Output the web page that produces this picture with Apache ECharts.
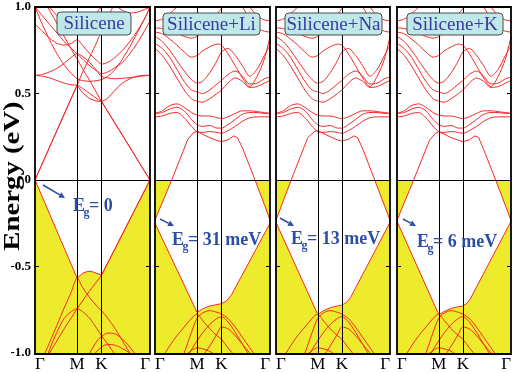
<!DOCTYPE html>
<html>
<head>
<meta charset="utf-8">
<script src="https://cdn.jsdelivr.net/npm/echarts@6/dist/echarts.min.js"></script>
<style>
  html, body { margin: 0; padding: 0; background: #fff; }
  #chart { width: 517px; height: 373px; }
</style>
</head>
<body>
<div id="chart"></div>
<script>
// k path Γ-M-K-Γ (relative lengths), energies in eV
const kTicks = [0, 0.577, 0.911, 1.577];
const kLabels = ['Γ', 'M', 'K', 'Γ'];
const panelNames = ['Silicene', 'Silicene+Li', 'Silicene+Na', 'Silicene+K'];
const gapTexts = ['= 0', '= 31 meV', '= 13 meV', '= 6 meV'];

const kGrid = [0, 0.1, 0.2, 0.3, 0.4, 0.5, 0.577, 0.65, 0.75, 0.85, 0.911, 1.0, 1.1, 1.2, 1.3, 1.4, 1.5, 1.577];

// pristine silicene: cone envelopes as [k, E]
const p1VB = [[0, 0], [0.577, -0.567], [0.65, -0.54], [0.7, -0.531], [0.75, -0.528], [0.8, -0.532], [0.85, -0.54], [0.911, -0.55], [1.577, 0]];
const p1CB = [[0, 0], [0.577, 0.548], [0.65, 0.505], [0.75, 0.47], [0.85, 0.455], [0.911, 0.455], [1.577, 0]];
// pristine silicene: other bands on kGrid
const p1C2 = [0, 0.095, 0.19, 0.285, 0.38, 0.475, 0.548, 0.62, 0.71, 0.80, 0.86, 0.94, 1.03, 1.12, 1.2, 1.3, 1.4, 1.5];
const p1C3 = [1.12, 1.05, 0.98, 0.905, 0.83, 0.755, 0.70, 0.645, 0.575, 0.50, 0.455, 0.394, 0.326, 0.258, 0.19, 0.12, 0.052, 0];
const p1C4 = [0.605, 0.60, 0.59, 0.575, 0.56, 0.55, 0.548, 0.53, 0.50, 0.47, 0.455, 0.475, 0.52, 0.56, 0.585, 0.60, 0.605, 0.605];
const p1C5 = [0.605, 0.61, 0.625, 0.645, 0.675, 0.71, 0.73, 0.715, 0.68, 0.63, 0.60, 0.59, 0.585, 0.588, 0.592, 0.597, 0.602, 0.605];
const p1C6 = [1.0, 0.95, 0.90, 0.85, 0.80, 0.76, 0.73, 0.70, 0.66, 0.63, 0.615, 0.625, 0.65, 0.68, 0.73, 0.79, 0.86, 0.92];
const p1C7 = [1.0, 0.90, 0.81, 0.73, 0.665, 0.615, 0.585, 0.575, 0.57, 0.575, 0.58, 0.60, 0.64, 0.70, 0.77, 0.85, 0.93, 1.0];
const p1C8 = [0.90, 0.86, 0.82, 0.79, 0.78, 0.79, 0.81, 0.78, 0.73, 0.69, 0.67, 0.68, 0.71, 0.75, 0.80, 0.86, 0.93, 1.0];
const p1C9 = [1.1, 1.05, 1.0, 0.95, 0.91, 0.875, 0.86, 0.875, 0.92, 0.97, 1.0, 1.03, 1.01, 0.98, 0.965, 0.97, 0.985, 1.0];
const p1V2 = [-1.2, -1.04, -0.94, -0.84, -0.74, -0.645, -0.567, -0.62, -0.68, -0.73, -0.755, -0.80, -0.86, -0.93, -1.0, -1.07, -1.13, -1.18];
const p1V3 = [-1.25, -1.1, -0.98, -0.88, -0.80, -0.76, -0.745, -0.76, -0.80, -0.86, -0.90, -0.95, -1.01, -1.07, -1.12, -1.16, -1.2, -1.22];
const p1V4 = [-1.15, -1.08, -1.0, -0.93, -0.86, -0.795, -0.745, -0.70, -0.64, -0.585, -0.55, -0.477, -0.395, -0.312, -0.23, -0.147, -0.064, 0];
const p1V5 = [-1.3, -1.3, -1.3, -1.3, -1.25, -1.18, -1.12, -1.07, -1.0, -0.93, -0.905, -0.885, -0.89, -0.92, -0.965, -1.02, -1.08, -1.12];
const p1V6 = [-1.3, -1.3, -1.3, -1.3, -1.25, -1.15, -1.1, -1.06, -1.03, -0.99, -0.965, -0.95, -0.955, -0.975, -1.0, -1.04, -1.08, -1.1];

// alkali-doped: cone bands per panel, [k, E]
const liCB = [[0, -0.23], [0.229, 0], [0.45, 0.235], [0.53, 0.275], [0.577, 0.28], [0.65, 0.265], [0.75, 0.245], [0.85, 0.228], [0.911, 0.222], [1.0, 0.232], [1.08, 0.255], [1.13, 0.245], [1.2, 0.185], [1.372, 0], [1.577, -0.23]];
const liVB = [[0, -0.25], [0.577, -0.765], [0.65, -0.745], [0.75, -0.728], [0.85, -0.72], [0.911, -0.715], [0.98, -0.70], [1.05, -0.663], [1.577, -0.25]];
const naCB = [[0, -0.232], [0.21, 0], [0.44, 0.245], [0.53, 0.28], [0.577, 0.285], [0.65, 0.27], [0.75, 0.25], [0.85, 0.232], [0.911, 0.225], [1.0, 0.235], [1.08, 0.255], [1.13, 0.245], [1.2, 0.18], [1.365, 0], [1.577, -0.232]];
const naVB = [[0, -0.245], [0.578, -0.778], [0.65, -0.757], [0.75, -0.738], [0.85, -0.728], [0.916, -0.722], [0.97, -0.71], [1.03, -0.68], [1.577, -0.245]];
const kCB = [[0, -0.233], [0.23, 0], [0.45, 0.23], [0.53, 0.27], [0.577, 0.278], [0.65, 0.265], [0.75, 0.245], [0.85, 0.23], [0.911, 0.222], [1.0, 0.232], [1.08, 0.255], [1.13, 0.245], [1.2, 0.175], [1.365, 0], [1.577, -0.233]];
const kVB = [[0, -0.239], [0.578, -0.778], [0.65, -0.76], [0.75, -0.742], [0.85, -0.732], [0.911, -0.728], [0.96, -0.715], [1.01, -0.69], [1.577, -0.239]];

// alkali-doped: other bands on kGrid (same look in all three panels)
const akA0 = [0.385, 0.40, 0.43, 0.44, 0.42, 0.39, 0.375, 0.37, 0.37, 0.36, 0.355, 0.365, 0.385, 0.40, 0.40, 0.395, 0.39, 0.385];
const akA1 = [0.385, 0.39, 0.41, 0.42, 0.40, 0.35, 0.32, 0.31, 0.315, 0.30, 0.30, 0.32, 0.35, 0.38, 0.39, 0.39, 0.385, 0.385];
const akA2 = [0.365, 0.37, 0.385, 0.39, 0.36, 0.31, 0.28, 0.275, 0.28, 0.275, 0.27, 0.285, 0.31, 0.34, 0.36, 0.365, 0.365, 0.365];
const akW1 = [0.76, 0.72, 0.66, 0.59, 0.52, 0.47, 0.455, 0.45, 0.47, 0.50, 0.52, 0.56, 0.59, 0.57, 0.535, 0.54, 0.56, 0.575];
const akW2 = [0.79, 0.76, 0.71, 0.64, 0.57, 0.52, 0.51, 0.50, 0.52, 0.555, 0.575, 0.61, 0.63, 0.60, 0.555, 0.56, 0.585, 0.595];
const akW3 = [0.83, 0.80, 0.75, 0.69, 0.63, 0.58, 0.56, 0.57, 0.62, 0.69, 0.74, 0.76, 0.72, 0.66, 0.60, 0.64, 0.72, 0.78];
const akW4 = [0.855, 0.845, 0.815, 0.78, 0.74, 0.71, 0.72, 0.745, 0.77, 0.785, 0.78, 0.73, 0.66, 0.59, 0.54, 0.60, 0.70, 0.83];
const akW5 = [0.88, 0.875, 0.865, 0.85, 0.83, 0.82, 0.83, 0.86, 0.91, 0.96, 0.99, 1.03, 1.05, 1.0, 0.93, 0.88, 0.86, 0.855];
const akW6 = [0.92, 0.93, 0.96, 1.0, 1.04, 1.06, 1.06, 1.05, 1.04, 1.03, 1.02, 1.05, 1.08, 1.06, 1.0, 0.95, 0.925, 0.92];
const akTop = [0.997, 0.997, 0.997, 0.997, 0.997, 0.997, 0.997, 0.997, 0.997, 0.997, 0.997, 0.997, 0.997, 0.997, 0.997, 0.997, 0.997, 0.997];
const akV2 = [-1.4, -1.3, -1.2, -1.1, -1.0, -0.88, -0.80, -0.77, -0.755, -0.765, -0.775, -0.80, -0.85, -0.91, -0.97, -1.03, -1.1, -1.15];
const akL1 = [-1.15, -1.03, -0.96, -0.90, -0.85, -0.80, -0.775, -0.81, -0.86, -0.90, -0.92, -0.97, -1.02, -1.08, -1.1, -1.1, -1.1, -1.1];
const akL2 = [-1.3, -1.25, -1.2, -1.12, -1.06, -0.98, -0.93, -0.885, -0.835, -0.80, -0.79, -0.82, -0.88, -0.95, -1.02, -1.1, -1.15, -1.2];
const akL3 = [-1.3, -1.3, -1.25, -1.2, -1.15, -1.1, -1.06, -1.02, -0.96, -0.89, -0.85, -0.86, -0.9, -0.95, -1.0, -1.05, -1.1, -1.15];
const akL4 = [-1.2, -1.15, -1.1, -1.06, -1.02, -0.985, -0.97, -0.975, -0.99, -1.02, -1.04, -1.08, -1.1, -1.1, -1.1, -1.1, -1.1, -1.1];

const RED = '#f42a2a';
const YEL = '#eeea2c';
const BLUE = '#2c4ea4';
const SERIF = '"Liberation Serif", "Times New Roman", serif';

const panelLeft = [35, 155, 276, 397];
const panelWidth = [115, 115, 114, 114];
const panelTop = 7;
const panelHeight = 347;

const onGrid = arr => kGrid.map((k, i) => [k, arr[i]]);

const series = [];
function band(p, data, smooth, extra) {
  series.push(Object.assign({
    type: 'line', xAxisIndex: p, yAxisIndex: p * 2, data: data,
    symbol: 'none', smooth: smooth, silent: true, z: 3,
    lineStyle: { color: RED, width: 1 }
  }, extra || {}));
}
function fill(p, data, color, z) {
  series.push({
    type: 'line', xAxisIndex: p, yAxisIndex: p * 2, data: data,
    symbol: 'none', silent: true, z: z,
    lineStyle: { width: 0 },
    areaStyle: { color: color, opacity: 1, origin: 'start' }
  });
}

// panel 1
band(0, p1VB, false, { z: 2, areaStyle: { color: YEL, opacity: 1, origin: 'start' } });
band(0, p1CB, false);
[p1C2, p1C3, p1C4, p1C5, p1C6, p1C7, p1C8, p1C9, p1V2, p1V3, p1V4, p1V5, p1V6]
  .forEach(b => band(0, onGrid(b), 0.3));

// panels 2-4
const cones = [[liCB, liVB], [naCB, naVB], [kCB, kVB]];
cones.forEach(([cb, vb], i) => {
  const p = i + 1;
  fill(p, [[0, 0], [1.577, 0]], YEL, 1);
  fill(p, cb.map(([k, e]) => [k, Math.min(e, 0)]), '#ffffff', 1);
  band(p, vb, false, { z: 2, areaStyle: { color: YEL, opacity: 1, origin: 'start' } });
  band(p, cb, false);
  [akA0, akA1, akA2, akW1, akW2, akW3, akW4, akW5, akW6, akTop, akV2, akL1, akL2, akL3, akL4]
    .forEach(b => band(p, onGrid(b), 0.3));
});

// vertical M, K lines and Fermi level
for (let p = 0; p < 4; p++) {
  series.push({
    type: 'line', xAxisIndex: p, yAxisIndex: p * 2, data: [], z: 5, silent: true,
    markLine: {
      silent: true, symbol: ['none', 'none'], label: { show: false },
      lineStyle: { color: '#000', width: 1, type: 'solid' },
      data: [{ xAxis: kTicks[1] }, { xAxis: kTicks[2] }, { yAxis: 0 }]
    }
  });
}

const grids = [], xAxes = [], yAxes = [];
for (let p = 0; p < 4; p++) {
  grids.push({ left: panelLeft[p], top: panelTop, width: panelWidth[p], height: panelHeight });
  xAxes.push({
    type: 'value', gridIndex: p, min: 0, max: 1.577,
    axisLine: { show: false }, axisTick: { show: false }, splitLine: { show: false },
    axisLabel: {
      customValues: kTicks,
      formatter: v => kLabels[kTicks.indexOf(v)],
      alignMinLabel: 'left', alignMaxLabel: 'right',
      showMinLabel: true, showMaxLabel: true,
      margin: 3, color: '#000', fontFamily: SERIF, fontSize: 17
    }
  });
  ['left', 'right'].forEach(pos => {
    yAxes.push({
      type: 'value', gridIndex: p, min: -1, max: 1, interval: 0.5, position: pos, z: 10,
      axisLine: { show: false }, splitLine: { show: false },
      axisTick: { show: true, inside: true, length: 4, lineStyle: { color: '#000', width: 1 } },
      axisLabel: {
        show: p === 0 && pos === 'left', margin: 4, color: '#000',
        fontFamily: SERIF, fontWeight: 'bold', fontSize: 13,
        formatter: v => (v === 0 ? '0' : v.toFixed(1))
      }
    });
  });
}

// titles, gap notes, frames
const boxes = [[57, 12, 74, 23], [163, 13, 97, 22], [285, 13, 97, 22], [407, 13, 96, 22]];
const arrows = [[43, 185, 65, 198], [160, 219, 174, 226], [280, 218, 294, 226], [403, 219, 416, 226]];
const notePos = [[73, 206], [172, 240], [291, 239], [417, 242]];
const graphic = [];
for (let p = 0; p < 4; p++) {
  graphic.push({
    type: 'rect', z: 100, silent: true,
    shape: { x: panelLeft[p], y: panelTop, width: panelWidth[p], height: panelHeight },
    style: { fill: 'none', stroke: '#000', lineWidth: 1.8 }
  });
  const [bx, by, bw, bh] = boxes[p];
  graphic.push({
    type: 'rect', z: 101, shape: { x: bx, y: by, width: bw, height: bh, r: 4 },
    style: { fill: '#bfe8e9', stroke: '#4a4a4a', lineWidth: 1 }
  });
  graphic.push({
    type: 'text', z: 102, x: bx + bw / 2, y: by + bh / 2 + 1,
    style: { text: panelNames[p], fill: '#3a3aa2', font: '19px ' + SERIF, align: 'center', verticalAlign: 'middle' }
  });
  const [x1, y1, x2, y2] = arrows[p];
  const ang = Math.atan2(y2 - y1, x2 - x1);
  const hl = 6, hw = 3;
  const bxh = x2 - hl * Math.cos(ang), byh = y2 - hl * Math.sin(ang);
  graphic.push({
    type: 'line', z: 101, shape: { x1: x1, y1: y1, x2: bxh, y2: byh },
    style: { stroke: BLUE, lineWidth: 1.5 }
  });
  graphic.push({
    type: 'polygon', z: 101,
    shape: { points: [[x2, y2],
      [bxh + hw * Math.sin(ang), byh - hw * Math.cos(ang)],
      [bxh - hw * Math.sin(ang), byh + hw * Math.cos(ang)]] },
    style: { fill: BLUE }
  });
  const [nx, ny] = notePos[p];
  graphic.push({ type: 'text', z: 101, x: nx, y: ny,
    style: { text: 'E', fill: BLUE, font: 'bold 18px ' + SERIF, verticalAlign: 'middle' } });
  graphic.push({ type: 'text', z: 101, x: nx + 10.5, y: ny + 7,
    style: { text: 'g', fill: BLUE, font: 'bold 12px ' + SERIF, verticalAlign: 'middle' } });
  graphic.push({ type: 'text', z: 101, x: nx + 16, y: ny,
    style: { text: gapTexts[p], fill: BLUE, font: 'bold 18px ' + SERIF, verticalAlign: 'middle' } });
}
graphic.push({
  type: 'text', z: 101, x: 13, y: 176, rotation: Math.PI / 2, scaleX: 1.25,
  style: { text: 'Energy (eV)', fill: '#000', font: 'bold 23px ' + SERIF, align: 'center', verticalAlign: 'middle' }
});

const chart = echarts.init(document.getElementById('chart'));
chart.setOption({
  animation: false,
  backgroundColor: '#fff',
  grid: grids,
  xAxis: xAxes,
  yAxis: yAxes,
  series: series,
  graphic: graphic
});
</script>
</body>
</html>
